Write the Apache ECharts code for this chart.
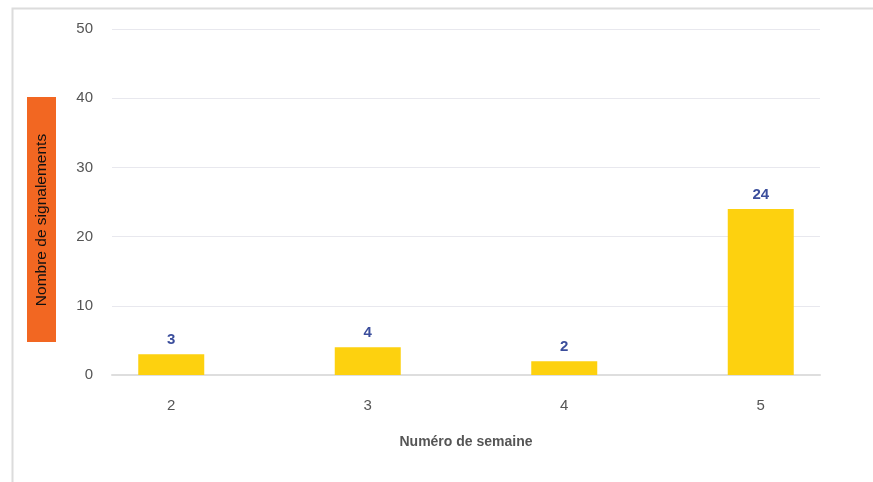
<!DOCTYPE html>
<html><head><meta charset="utf-8">
<script src="https://cdn.jsdelivr.net/npm/echarts@6/dist/echarts.min.js"></script>
<style>html,body{margin:0;padding:0;background:#fff}#c{width:873px;height:482px}</style>
</head><body><div id="c"></div>
<script>
const categories = ['2', '3', '4', '5'];
const values = [3, 4, 2, 24];
const yTicks = [0, 10, 20, 30, 40, 50];
const yAxisName = 'Nombre de signalements';
const xAxisName = 'Numéro de semaine';

const FONT = 'Liberation Sans, Arial, sans-serif';
const chart = echarts.init(document.getElementById('c'));
chart.setOption({
  animation: false,
  backgroundColor: '#fff',
  grid: [
    {left: 112, right: 53, top: 29, bottom: 107},
    {left: 73, right: 14, top: 29, bottom: 107}
  ],
  graphic: [
    {type: 'rect', left: 10, top: 6, shape: {width: 880, height: 490}, style: {fill: 'none', stroke: '#dcdcdc', lineWidth: 2}, silent: true},
    {type: 'rect', left: 27, top: 97, shape: {width: 29, height: 245}, style: {fill: '#F26722'}},
    {type: 'text', x: 41.5, y: 220, rotation: Math.PI/2, style: {text: yAxisName, fill: '#111', font: '15.5px "Liberation Sans", Arial, sans-serif', align: 'center', verticalAlign: 'middle'}}
  ],
  xAxis: [
    {gridIndex: 0, type: 'category', data: categories, axisLabel: {show: false}, axisTick: {show: false},
     axisLine: {show: true, lineStyle: {color: '#dedede', width: 2}}},
    {gridIndex: 1, type: 'category', data: categories,
     axisLine: {show: false}, axisTick: {show: false},
     axisLabel: {color: '#555', fontSize: 15, margin: 23, fontFamily: FONT},
     name: xAxisName, nameLocation: 'middle', nameGap: 60,
     nameTextStyle: {color: '#555', fontSize: 14, fontWeight: 'bold', fontFamily: FONT, padding: [0, 0, 0, -2*((73 + (873-14-73)/2) - 466)]}}
  ],
  yAxis: [
    {gridIndex: 0, type: 'value', min: yTicks[0], max: yTicks[yTicks.length-1], interval: 10,
     axisLine: {show: false},
     axisLabel: {show: true, color: '#555', fontSize: 15, margin: 19, fontFamily: FONT},
     splitLine: {lineStyle: {color: '#e8e8ee', width: 1}}, axisTick: {show: false}},
    {gridIndex: 1, type: 'value', min: yTicks[0], max: yTicks[yTicks.length-1], interval: 10, show: false}
  ],
  series: [{
    type: 'bar', xAxisIndex: 1, yAxisIndex: 1, data: values, barWidth: 66,
    itemStyle: {color: '#FDD10F'},
    label: {show: true, position: 'top', distance: 7, color: '#3B4E9C', fontWeight: 'bold', fontSize: 15, fontFamily: FONT}
  }]
});
</script></body></html>
